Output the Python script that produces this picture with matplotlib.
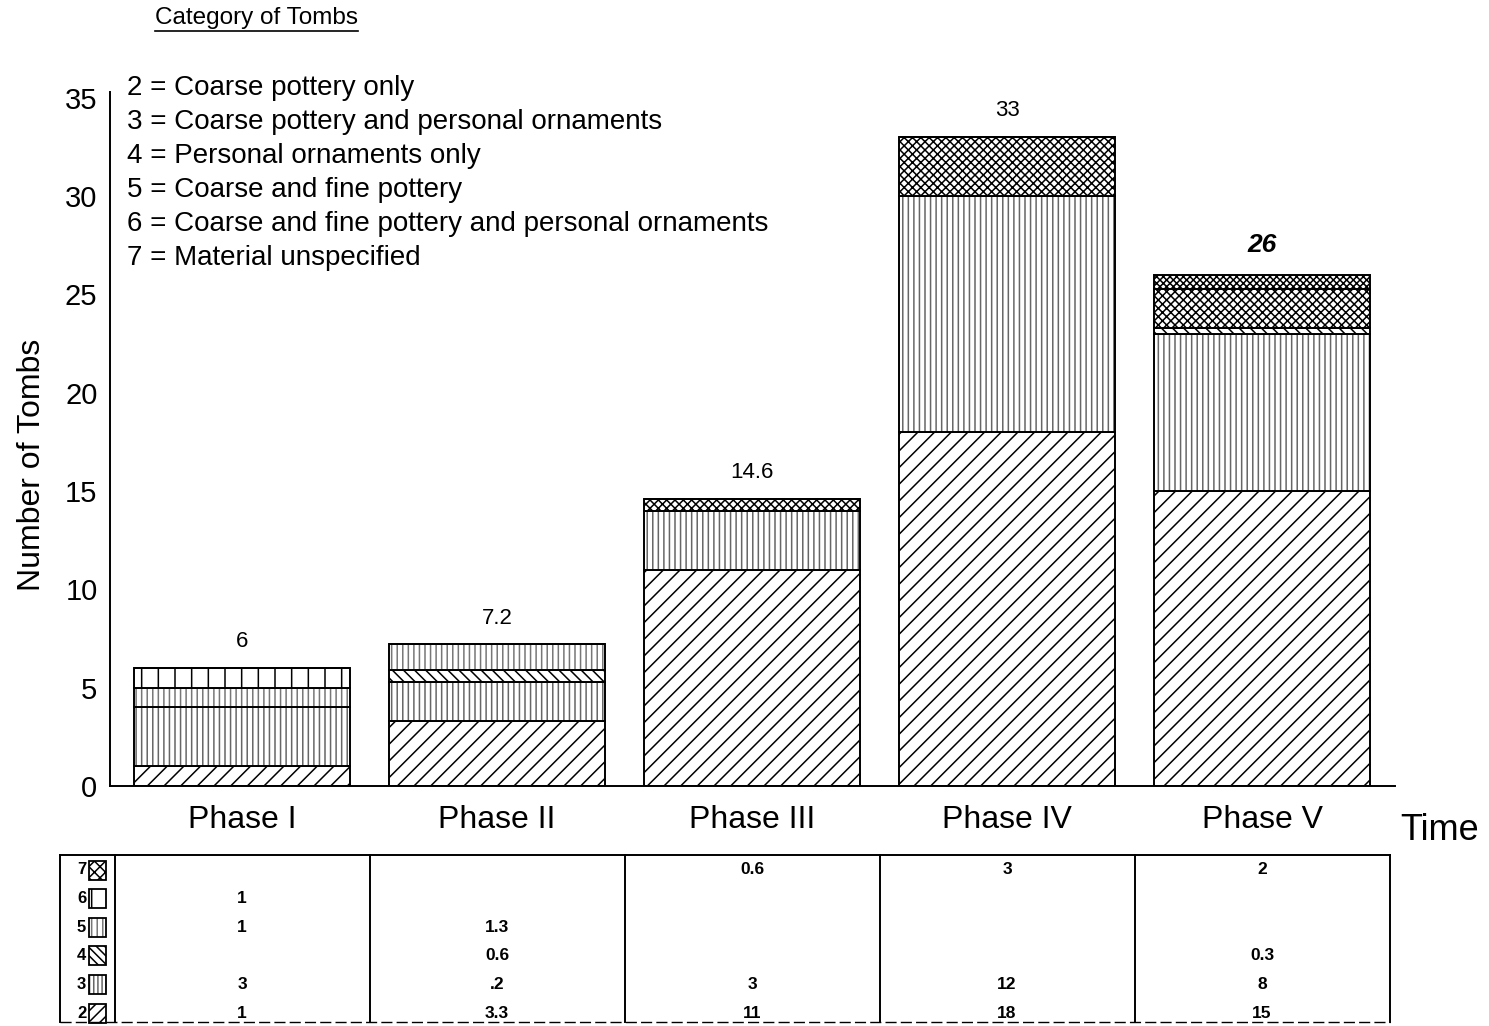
import matplotlib
matplotlib.use("Agg")
import matplotlib.pyplot as plt
from matplotlib.patches import Rectangle
import numpy as np

plt.rcParams['font.family'] = ['Liberation Sans', 'DejaVu Sans']
plt.rcParams['hatch.linewidth'] = 1.1

# tombs per phase, by category (2..7)
phases = ["Phase I", "Phase II", "Phase III", "Phase IV", "Phase V"]
categories = [2, 3, 4, 5, 6, 7]
cat2 = [1, 3.3, 11, 18, 15]
cat3 = [3, 2, 3, 12, 8]
cat4 = [0, 0.6, 0, 0, 0.3]
cat5 = [1, 1.3, 0, 0, 0]
cat6 = [1, 0, 0, 0, 0]
cat7 = [0, 0, 0.6, 3, 2]
totals = [6, 7.2, 14.6, 33, 26]
total_labels = ["6", "7.2", "14.6", "33", "26"]
# what is written in the table below the bars
table_text = {
    7: ["", "", "0.6", "3", "2"],
    6: ["1", "", "", "", ""],
    5: ["1", "1.3", "", "", ""],
    4: ["", "0.6", "", "", "0.3"],
    3: ["3", ".2", "3", "12", "8"],
    2: ["1", "3.3", "11", "18", "15"],
}
legend_lines = [
    "2 = Coarse pottery only",
    "3 = Coarse pottery and personal ornaments",
    "4 = Personal ornaments only",
    "5 = Coarse and fine pottery",
    "6 = Coarse and fine pottery and personal ornaments",
    "7 = Material unspecified",
]

# drawing order bottom -> top: 2, 3, 4, 5, 6, 7
stack = [cat2, cat3, cat4, cat5, cat6, cat7]
hatches = {2: "//", 3: "|||", 4: "\\\\\\", 5: "|||", 6: "|", 7: "xxxx"}
hcolors = {2: "black", 3: "#666666", 4: "black", 5: "#777777", 6: "black", 7: "black"}
# the little key squares in the table are too small for the bar hatches
key_hatches = {2: "///", 3: "||||", 4: "\\\\\\\\", 5: "|||", 6: "|", 7: "xxx"}

W, H = 1489, 1026
fig = plt.figure(figsize=(W / 100, H / 100), dpi=100)

def px_axes(x0, x1, y0, y1):
    return fig.add_axes([x0 / W, 1 - y1 / H, (x1 - x0) / W, (y1 - y0) / H])

# x scale: bar centres 255 px apart, first one at x=242
c0, step = 242, 255
ax = px_axes(110, 1395, 92, 786)
ax.set_xlim((110 - c0) / step, (1395 - c0) / step)
ax.set_ylim(0, 35.3)

x = np.arange(len(phases))
width = 0.85
bottom = np.zeros(len(phases))
for cat, vals in zip(categories, stack):
    vals = np.array(vals, dtype=float)
    ax.bar(x, vals, width, bottom=bottom, color="white",
           hatch=hatches[cat], edgecolor=hcolors[cat], linewidth=0)
    ax.bar(x, vals, width, bottom=bottom, color="none",
           edgecolor="black", linewidth=1.4)
    bottom += vals

# part of a total not broken down in the table
rest = np.array(totals) - bottom
ax.bar(x, rest, width, bottom=bottom, color="white", hatch="xxxxx",
       edgecolor="black", linewidth=0)
ax.bar(x, rest, width, bottom=bottom, color="none", edgecolor="black",
       linewidth=1.4)

for i, (t, lab) in enumerate(zip(totals, total_labels)):
    if i == 4:
        ax.text(i, t + 0.9, lab, ha="center", va="bottom", fontsize=19,
                fontweight="bold", fontstyle="italic")
    else:
        ax.text(i, t + 0.8, lab, ha="center", va="bottom", fontsize=16)

for s in ["top", "right"]:
    ax.spines[s].set_visible(False)
ax.spines["left"].set_linewidth(1.4)
ax.spines["bottom"].set_linewidth(1.4)
ax.set_yticks(range(0, 36, 5))
ax.tick_params(axis="y", length=0, pad=9, labelsize=21)
ax.set_xticks(x)
ax.set_xticklabels(phases)
ax.tick_params(axis="x", length=0, pad=14, labelsize=23)

fig.text(32 / W, 1 - 465 / H, "Number of Tombs", rotation=90,
         ha="center", va="center", fontsize=23)
fig.text(1440 / W, 1 - 831 / H, "Time", ha="center", va="center", fontsize=26)

# category key
for k, line in enumerate(legend_lines):
    fig.text(127 / W, 1 - (88 + 34 * k) / H, line, ha="left", va="center",
             fontsize=20)
fig.text(155 / W, 1 - 18 / H, "Category of Tombs", ha="left",
         va="center", fontsize=17.5)
fig.lines.append(plt.Line2D([155 / W, 358 / W], [1 - 31 / H, 1 - 31 / H],
                            transform=fig.transFigure, color="black", lw=1.2))

# table of counts
tx0, tx1 = 55, 1400
tab = px_axes(tx0, tx1, 855, 1026)
tab.set_xlim((tx0 - c0) / step, (tx1 - c0) / step)
row_h = 28.6
tab.set_ylim(-13 / row_h, (1026 - 855 - 13) / row_h)
tab.axis("off")
left_edge = -0.5 - 55 / step
top = (1026 - 855 - 13) / row_h
bot = -9 / row_h
lw = 1.4
tab.plot([left_edge, 4.5], [top, top], color="black", lw=lw, clip_on=False)
tab.plot([left_edge, 4.5], [bot, bot], color="black", lw=1.0, ls=(0, (8, 3)),
         clip_on=False)
for xv in [left_edge, -0.5, 0.5, 1.5, 2.5, 3.5, 4.5]:
    tab.plot([xv, xv], [bot, top], color="black", lw=lw, clip_on=False)

sq_w = 17 / step
sq_h = 19 / row_h
for cat in categories:
    r = cat - 2
    tab.text(left_edge + 22 / step, r, str(cat), ha="center", va="center",
             fontsize=12, fontweight="bold")
    tab.add_patch(Rectangle((left_edge + 29 / step, r - sq_h / 2), sq_w, sq_h,
                            facecolor="white", hatch=key_hatches[cat],
                            edgecolor=hcolors[cat], linewidth=0))
    tab.add_patch(Rectangle((left_edge + 29 / step, r - sq_h / 2), sq_w, sq_h,
                            facecolor="none", edgecolor="black", linewidth=1.3))
    for i, val in enumerate(table_text[cat]):
        if val:
            tab.text(i, r, val, ha="center", va="center", fontsize=12.5,
                     fontweight="bold")

fig.savefig("out.png", dpi=100)
